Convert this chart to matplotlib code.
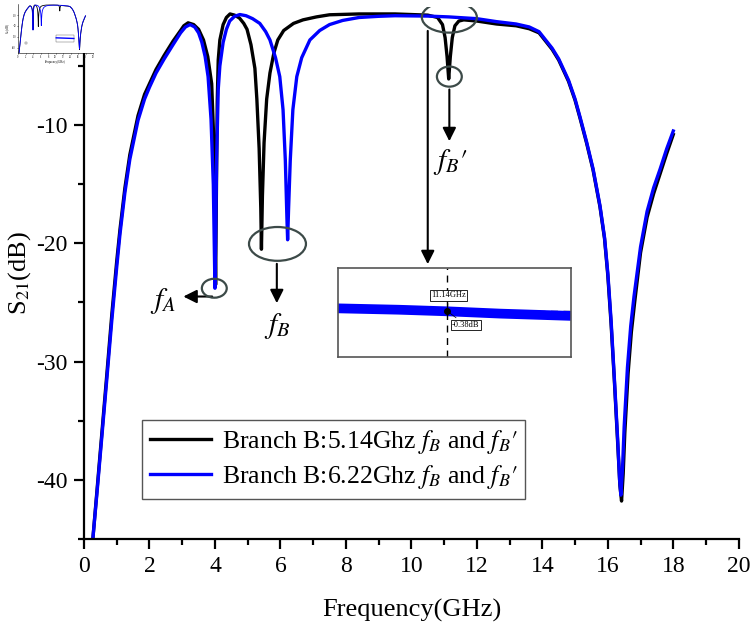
import numpy as np
import matplotlib
matplotlib.use("Agg")
import matplotlib.pyplot as plt
from matplotlib.patches import Ellipse

plt.rcParams['font.family'] = ['Liberation Serif', 'DejaVu Serif']
plt.rcParams['mathtext.fontset'] = 'stix'
plt.rcParams['axes.unicode_minus'] = False

# 주파수 (GHz) / S21 (dB) - 그림에서 읽은 값
freq_blue = [0.27, 0.4, 0.55, 0.7, 0.85, 1.0, 1.1, 1.25, 1.4, 1.65, 1.85, 2.0, 2.2, 2.45, 2.72,
             2.95, 3.1, 3.24, 3.38, 3.5, 3.6, 3.7, 3.79, 3.88, 3.95, 3.99, 4.0, 4.02, 4.05,
             4.1, 4.15, 4.25, 4.35, 4.45, 4.6, 4.76, 4.95, 5.15, 5.37, 5.55, 5.68, 5.85,
             5.98, 6.08, 6.15, 6.2, 6.22, 6.25, 6.3, 6.38, 6.5, 6.65, 6.9, 7.2, 7.5, 7.9,
             8.4, 9.0, 9.5, 10.5, 11.14, 12.0, 12.6, 13.2, 13.6, 13.9, 14.1, 14.3, 14.5,
             14.8, 15.0, 15.15, 15.35, 15.55, 15.76, 15.9, 16.0, 16.1, 16.2, 16.3, 16.36,
             16.4, 16.45, 16.5, 16.6, 16.7, 16.8, 17.0, 17.2, 17.4, 17.6, 17.8, 18.0]
s21_blue = [-45, -41.0, -36.2, -31.4, -26.5, -22.0, -19.2, -15.7, -12.9, -9.6, -7.8, -6.8, -5.6, -4.4, -3.2,
            -2.2, -1.7, -1.5, -1.7, -2.2, -3.0, -4.2, -5.9, -9.5, -15.0, -22.0, -23.8, -20.0, -13.0,
            -7.0, -5.0, -3.0, -1.9, -1.2, -0.8, -0.65, -0.75, -1.0, -1.4, -2.1, -2.8, -4.3,
            -5.9, -8.7, -13.0, -18.0, -19.7, -17.0, -13.0, -8.7, -5.9, -4.3, -2.8, -2.0, -1.5, -1.15,
            -0.9, -0.8, -0.75, -0.78, -0.85, -1.0, -1.25, -1.45, -1.7, -2.1, -2.8, -3.5, -4.4,
            -6.2, -7.8, -9.3, -11.4, -13.7, -16.8, -19.5, -22.5, -26.5, -31.4, -36.5, -40.0,
            -41.3, -39.0, -35.5, -30.5, -27.0, -24.5, -20.3, -17.3, -15.3, -13.7, -12.0, -10.5]

freq_black = [0.27, 0.4, 0.55, 0.7, 0.85, 1.0, 1.1, 1.25, 1.4, 1.65, 1.85, 2.0, 2.2, 2.45, 2.72,
              2.95, 3.05, 3.18, 3.35, 3.5, 3.65, 3.78, 3.9, 3.96, 4.0, 4.02, 4.04, 4.07, 4.1,
              4.15, 4.25, 4.35, 4.46, 4.6, 4.75, 4.88, 4.98, 5.1, 5.22, 5.28, 5.35, 5.4,
              5.42, 5.45, 5.5, 5.58, 5.68, 5.8, 5.92, 6.1, 6.4, 6.69, 7.1, 7.5, 8.4, 9.5,
              10.5, 10.8, 10.95, 11.03, 11.09, 11.14, 11.19, 11.25, 11.33, 11.45, 11.6, 12.0,
              12.6, 13.2, 13.6, 13.9, 14.1, 14.3, 14.5, 14.8, 15.0, 15.15, 15.35, 15.55,
              15.76, 15.9, 16.0, 16.1, 16.2, 16.3, 16.37, 16.42, 16.47, 16.52, 16.62, 16.72,
              16.82, 17.0, 17.2, 17.4, 17.6, 17.8, 18.0]
s21_black = [-45, -40.8, -35.9, -31.0, -26.0, -21.5, -18.8, -15.3, -12.5, -9.2, -7.4, -6.5, -5.3, -4.1, -2.9,
             -2.0, -1.6, -1.35, -1.5, -1.9, -2.8, -4.2, -6.5, -11.0, -18.0, -23.5, -17.0, -8.0, -4.5,
             -2.8, -1.5, -0.9, -0.6, -0.7, -0.95, -1.4, -1.9, -3.2, -5.2, -7.8, -12.0, -17.0,
             -20.5, -16.0, -11.5, -7.8, -5.6, -3.9, -2.8, -2.0, -1.4, -1.1, -0.85, -0.67, -0.6, -0.6,
             -0.7, -0.9, -1.5, -2.6, -4.2, -6.1, -4.2, -2.6, -1.6, -1.2, -1.1, -1.2,
             -1.45, -1.6, -1.85, -2.2, -2.9, -3.6, -4.5, -6.3, -7.9, -9.4, -11.5, -13.8,
             -16.9, -19.6, -22.7, -26.8, -31.6, -36.8, -40.5, -41.8, -39.5, -36.0, -31.0, -27.5,
             -25.0, -20.8, -17.8, -15.8, -14.1, -12.4, -10.8]

legend_labels = [r"Branch B:5.14Ghz $f_B$ and $f_B\prime$", r"Branch B:6.22Ghz $f_B$ and $f_B\prime$"]

# 확대 그림 데이터
inset_freq = [10.6, 10.9, 11.14, 11.4, 11.75]
inset_s21 = [-0.367, -0.373, -0.38, -0.39, -0.40]

fig = plt.figure(figsize=(7.5, 6.23), dpi=100)
ax = fig.add_axes([0.112, 0.135, 0.873, 0.854])

ax.plot(freq_black, s21_black, color='black', lw=2.4, label=legend_labels[0])
ax.plot(freq_blue, s21_blue, color='#0000ff', lw=2.4, label=legend_labels[1])

ax.set_xlim(0, 20)
ax.set_ylim(-45, 0)
ax.set_xticks(np.arange(0, 21, 2))
ax.set_xticks(np.arange(1, 20, 2), minor=True)
ax.set_yticks([-40, -30, -20, -10])
ax.set_yticks([-45, -35, -25, -15, -5], minor=True)
ax.spines['top'].set_visible(False)
ax.spines['right'].set_visible(False)
for s in ['left', 'bottom']:
    ax.spines[s].set_linewidth(1.6)
ax.tick_params(which='major', direction='out', length=7, width=1.6, labelsize=17, pad=5)
ax.tick_params(which='minor', direction='out', length=4, width=1.6)
ax.set_xlabel('Frequency(GHz)', fontsize=19, labelpad=16)
ax.set_ylabel('S$_{21}$(dB)', fontsize=19, labelpad=2)

leg = ax.legend(loc='upper left', bbox_to_anchor=(0.0885, 0.2237), borderaxespad=0,
                fontsize=18.5, handlelength=2.4, fancybox=False, framealpha=1,
                edgecolor='#555555', borderpad=0.3, labelspacing=0.3, handletextpad=0.4)
leg.get_frame().set_linewidth(1.0)

# 동그라미 표시
ec = '#3c4a48'
for (cx, cy, w, h) in [(3.98, -23.8, 0.76, 1.6), (5.91, -20.05, 1.74, 2.86),
                       (11.16, -0.88, 1.68, 2.6), (11.16, -5.9, 0.76, 1.7)]:
    ax.add_patch(Ellipse((cx, cy), w, h, fill=False, ec=ec, lw=1.6, zorder=5))

arrow = dict(arrowstyle='-|>', color='black', lw=1.5, mutation_scale=20)
ax.annotate('', xy=(2.95, -24.5), xytext=(4.0, -24.5), arrowprops=arrow)
ax.annotate('', xy=(5.89, -25.3), xytext=(5.89, -21.5), arrowprops=arrow)
ax.annotate('', xy=(10.5, -22.0), xytext=(10.5, -1.8), arrowprops=arrow)
ax.annotate('', xy=(11.16, -11.6), xytext=(11.16, -6.75), arrowprops=arrow)
ax.text(2.41, -24.9, '$f_A$', fontsize=21, ha='center', va='center')
ax.text(5.9, -27.0, '$f_B$', fontsize=21, ha='center', va='center')
ax.text(11.18, -13.1, r"$f_B\prime$", fontsize=21, ha='center', va='center')

# 확대 그림
axi = fig.add_axes([0.4507, 0.427, 0.3107, 0.1429])
axi.plot(inset_freq, inset_s21, color='#0000ff', lw=7, solid_capstyle='butt')
axi.set_xlim(10.6, 11.75)
axi.set_ylim(-0.58, -0.19)
axi.axvline(11.14, color='black', ls='--', lw=1.0, dashes=(5, 4))
axi.axhline(-0.38, color='black', ls='--', lw=1.0, dashes=(5, 4), zorder=1)
axi.plot([11.14], [-0.38], 'o', color='black', ms=4)
axi.set_xticks([])
axi.set_yticks([])
for s in axi.spines.values():
    s.set_edgecolor('#555555')
    s.set_linewidth(1.2)
box = dict(boxstyle='square,pad=0.15', fc='white', ec='black', lw=0.6)
axi.annotate('11.14GHz', xy=(11.14, -0.38), xytext=(11.145, -0.31), fontsize=6,
             ha='center', va='center', bbox=box,
             arrowprops=dict(arrowstyle='-', lw=0.5, color='black'))
axi.annotate('-0.38dB', xy=(11.14, -0.38), xytext=(11.23, -0.44), fontsize=6,
             ha='center', va='center', bbox=box,
             arrowprops=dict(arrowstyle='-', lw=0.5, color='black'))

# 왼쪽 위 작은 그림
axt = fig.add_axes([0.024, 0.915, 0.1, 0.078])
axt.plot(freq_black, s21_black, color='black', lw=0.6)
axt.plot(freq_blue, s21_blue, color='#0000ff', lw=0.6)
axt.set_xlim(0, 20)
axt.set_ylim(-45, 0)
axt.set_xticks(np.arange(0, 21, 2))
axt.set_yticks([-40, -30, -20, -10])
axt.tick_params(length=1, width=0.4, labelsize=1.8, pad=0.5)
axt.spines['top'].set_visible(False)
axt.spines['right'].set_visible(False)
for s in ['left', 'bottom']:
    axt.spines[s].set_linewidth(0.4)
axt.set_xlabel('Frequency(GHz)', fontsize=2.2, labelpad=0.5)
axt.set_ylabel('S$_{21}$(dB)', fontsize=2.2, labelpad=0.5)
lt = axt.legend(loc='upper left', bbox_to_anchor=(0.09, 0.22), borderaxespad=0,
                fontsize=1.9, handlelength=2.5, fancybox=False, framealpha=1,
                edgecolor='#555555')
lt.get_frame().set_linewidth(0.3)
axt.add_patch(plt.Rectangle((10.2, -28), 4.7, -7, fill=False, ec='#555555', lw=0.3))
axt.plot([10.2, 14.9], [-31, -31.6], color='#0000ff', lw=1)

fig.savefig('out.png', dpi=100)
